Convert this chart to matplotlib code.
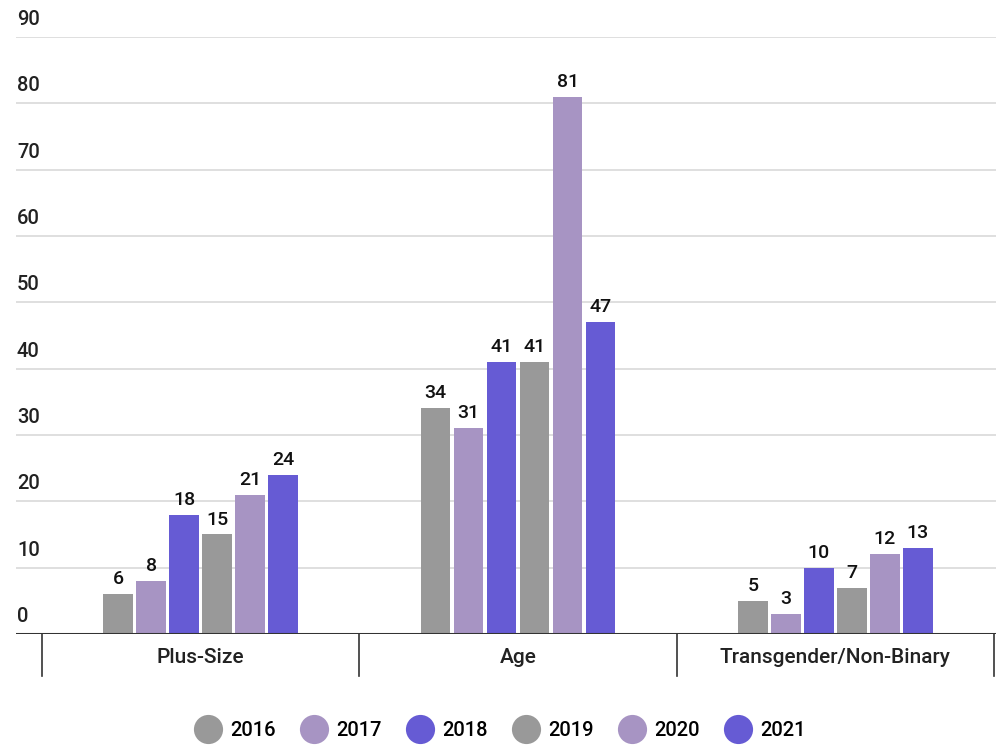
import matplotlib
matplotlib.use("Agg")
import matplotlib.pyplot as plt
import numpy as np
from matplotlib.lines import Line2D
import matplotlib.transforms as mtransforms

plt.rcParams["font.family"] = ["Roboto", "DejaVu Sans"]

# 数据
categories = ["Plus-Size", "Age", "Transgender/Non-Binary"]
years = ["2016", "2017", "2018", "2019", "2020", "2021"]
values_2016 = [6, 34, 5]
values_2017 = [8, 31, 3]
values_2018 = [18, 41, 10]
values_2019 = [15, 41, 7]
values_2020 = [21, 81, 12]
values_2021 = [24, 47, 13]
y_ticks = [0, 10, 20, 30, 40, 50, 60, 70, 80, 90]

series = [values_2016, values_2017, values_2018, values_2019, values_2020, values_2021]
colors = ["#999999", "#a794c3", "#665bd4", "#999999", "#a794c3", "#665bd4"]

fig = plt.figure(figsize=(10, 7.55), dpi=100)
ax = fig.add_axes([0.016, 0.1603, 0.98, 0.7907])

x = np.arange(len(categories))
step = 0.104
width = 0.094
for i, vals in enumerate(series):
    offset = (i - 2.5) * step
    bars = ax.bar(x + offset, vals, width, color=colors[i], edgecolor="none", zorder=3)
    for b, v in zip(bars, vals):
        ax.text(b.get_x() + b.get_width() / 2, v + 0.9, str(v), ha="center", va="bottom",
                fontsize=14, fontweight="medium", color="#111111")

ax.set_ylim(0, 90)
ax.set_xlim(-0.582, 2.506)

# 网格线和 y 轴标签
for t in y_ticks[1:]:
    ax.axhline(t, color="#d9d9d9", lw=1.2, zorder=1)
trans = mtransforms.blended_transform_factory(ax.transAxes, ax.transData)
for t in y_ticks:
    ax.text(0.001, t + 1.2, str(t), transform=trans, ha="left", va="bottom",
            fontsize=14.5, fontweight="medium", color="#222222")

ax.axhline(0, color="#333333", lw=2.2, zorder=4)

# 分组分隔线
for d in [-0.5, 0.5, 1.5, 2.5]:
    ax.plot([d, d], [0, -6.3], color="#333333", lw=1.2, clip_on=False)
for i, c in enumerate(categories):
    ax.text(i, -3.5, c, ha="center", va="center", fontsize=15,
            fontweight="medium", color="#222222")

ax.set_xticks([])
ax.set_yticks([])
for s in ax.spines.values():
    s.set_visible(False)

handles = [Line2D([0], [0], marker="o", linestyle="none", markersize=21,
                  markerfacecolor=c, markeredgecolor="none") for c in colors]
fig.legend(handles, years, loc="center", bbox_to_anchor=(0.501, 0.033), ncol=6,
           frameon=False, prop={"size": 14.5, "weight": "medium"},
           handletextpad=0.5, columnspacing=1.3, handlelength=1.2)

fig.savefig("out.png", dpi=100)
